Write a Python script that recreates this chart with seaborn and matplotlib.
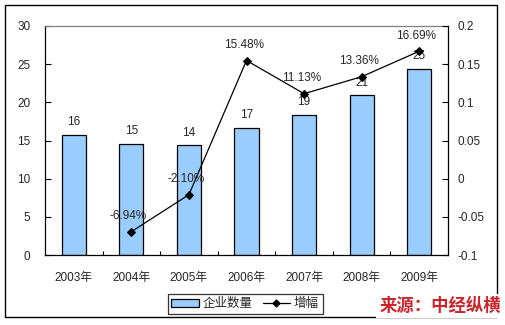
import matplotlib
matplotlib.use("Agg")
import matplotlib.pyplot as plt
import seaborn as sns
import pandas as pd
from matplotlib.patches import Rectangle, Patch
from matplotlib.lines import Line2D
from matplotlib.ticker import FixedLocator

# ---- data ----
years = ["2003年", "2004年", "2005年", "2006年", "2007年", "2008年", "2009年"]
companies = [15.7, 14.6, 14.35, 16.6, 18.4, 20.9, 24.4]
company_labels = ["16", "15", "14", "17", "19", "21", "25"]
growth_years = ["2004年", "2005年", "2006年", "2007年", "2008年", "2009年"]
growth = [-0.0694, -0.0210, 0.1548, 0.1113, 0.1336, 0.1669]
growth_labels = ["-6.94%", "-2.10%", "15.48%", "11.13%", "13.36%", "16.69%"]
left_ticks = [0, 5, 10, 15, 20, 25, 30]
right_ticks = [-0.1, -0.05, 0, 0.05, 0.1, 0.15, 0.2]
right_tick_labels = ["-0.1", "-0.05", "0", "0.05", "0.1", "0.15", "0.2"]
legend_labels = ["企业数量", "增幅"]
source_text = "来源：中经纵横"

sns.set_theme(style="white")
FAM = ["Liberation Sans", "Noto Sans CJK SC", "DejaVu Sans"]
plt.rcParams["font.family"] = FAM
plt.rcParams["font.size"] = 8.5

fig = plt.figure(figsize=(5.05, 3.25), dpi=100)
ax = fig.add_axes([45 / 505, 70 / 325, (448 - 45) / 505, (255 - 26) / 325])

df = pd.DataFrame({"year": years, "count": companies})
bar_color = "#99CCFF"
sns.barplot(data=df, x="year", y="count", color=bar_color, saturation=1,
            width=0.42, edgecolor="black", linewidth=0.9, ax=ax, zorder=2)

ax.set_ylim(0, 30)
ax.set_xlim(-0.5, len(years) - 0.5)
ax.set_xlabel("")
ax.set_ylabel("")
ax.yaxis.set_major_locator(FixedLocator(left_ticks))
ax.set_yticklabels([str(t) for t in left_ticks])
ax.tick_params(axis="y", direction="in", length=4, width=0.8, color="black",
               pad=10.5, labelsize=8.5, left=True)
ax.set_xticks(range(len(years)))
ax.set_xticklabels(years)
ax.set_xticks([i + 0.5 for i in range(len(years) - 1)], minor=True)
ax.tick_params(axis="x", which="major", length=0, pad=12, labelsize=8.5)
ax.tick_params(axis="x", which="minor", direction="in", length=3, width=0.8,
               color="black", bottom=True)
for s in ["left", "bottom"]:
    ax.spines[s].set_color("black")
    ax.spines[s].set_linewidth(0.9)
ax.spines["top"].set_color("#808080")
ax.spines["top"].set_linewidth(0.9)
ax.spines["right"].set_visible(False)
ax.grid(False)

for i, (bar, lab) in enumerate(zip(ax.patches, company_labels)):
    ax.annotate(lab, (bar.get_x() + bar.get_width() / 2, bar.get_height()),
                xytext=(0, 5), textcoords="offset points",
                ha="center", va="bottom", fontsize=8.5)

# ---- growth line on twin axis ----
ax2 = ax.twinx()
gx = [years.index(y) for y in growth_years]
gdf = pd.DataFrame({"x": gx, "g": growth})
sns.lineplot(data=gdf, x="x", y="g", color="black", linewidth=0.9,
             marker="D", markersize=4, markeredgecolor="black", ax=ax2, zorder=3)
ax2.set_ylim(-0.1, 0.2)
ax2.set_xlim(-0.5, len(years) - 0.5)
ax2.set_xlabel("")
ax2.set_ylabel("")
ax2.yaxis.set_major_locator(FixedLocator(right_ticks))
ax2.set_yticklabels(right_tick_labels)
ax2.tick_params(axis="y", direction="in", length=4, width=0.8, color="black",
                pad=7, labelsize=8.5, right=True)
for s in ["left", "bottom", "top"]:
    ax2.spines[s].set_visible(False)
ax2.spines["right"].set_color("black")
ax2.spines["right"].set_linewidth(0.9)
ax2.grid(False)

for x, g, lab in zip(gx, growth, growth_labels):
    ax2.annotate(lab, (x, g), xytext=(-2, 7), textcoords="offset points",
                 ha="center", va="bottom", fontsize=8.5)

# ---- legend ----
handles = [Patch(facecolor=bar_color, edgecolor="black", linewidth=0.9),
           Line2D([], [], color="black", linewidth=0.9, marker="D", markersize=3.5)]
leg = fig.legend(handles, legend_labels, loc="center", ncol=2,
                 bbox_to_anchor=(245 / 505, 1 - 304 / 325),
                 frameon=True, fancybox=False, edgecolor="black",
                 fontsize=9, handlelength=2.2, handleheight=0.6,
                 columnspacing=0.8, handletextpad=0.3, borderpad=0.3)
leg.get_frame().set_linewidth(0.9)

# ---- outer border ----
fig.patches.append(Rectangle((5 / 505, 1 - 317 / 325), 492 / 505, 312 / 325,
                             transform=fig.transFigure, fill=False,
                             edgecolor="black", linewidth=1, zorder=1))

fig.text(440 / 505, 1 - 306 / 325, source_text, ha="center", va="center",
         fontsize=12.5, fontweight="bold", color="#C8262B",
         family=["Noto Sans CJK SC"], zorder=5,
         bbox=dict(facecolor="white", edgecolor="none", pad=2))

fig.savefig("out.png", dpi=100)
